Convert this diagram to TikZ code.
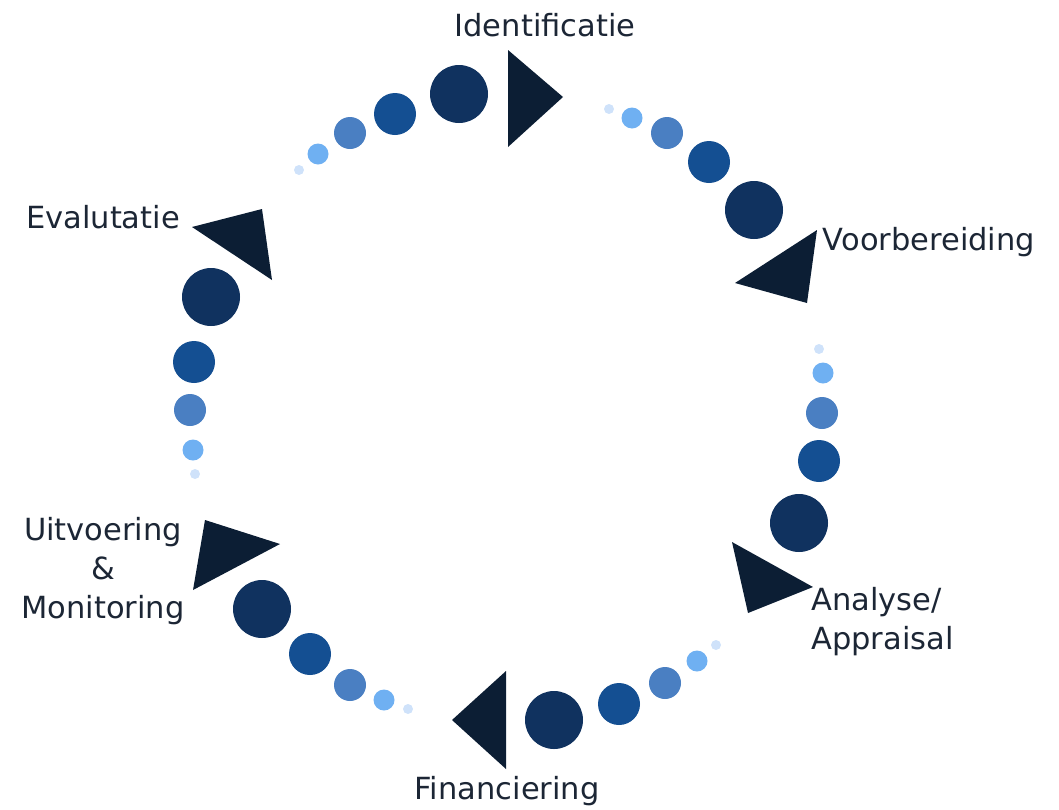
\documentclass[tikz,border=0pt]{standalone}
\usepackage{fontspec}
\setmainfont{DejaVu Sans}
\definecolor{tinyc}{HTML}{CFE2FA}
\definecolor{lightc}{HTML}{6FB0F2}
\definecolor{medc}{HTML}{4A7FC2}
\definecolor{midc}{HTML}{144F92}
\definecolor{darkc}{HTML}{10325F}
\definecolor{tric}{HTML}{0C1E34}
\definecolor{txtc}{HTML}{1C2635}
\tikzset{
  lbl/.style={text=txtc, font=\fontsize{30.5}{39}\selectfont, inner sep=0pt, align=center},
  tri/.style={fill=tric},
}
\newcommand{\dotrow}[5]{%
  \fill[tinyc] #1 circle (5);
  \fill[lightc] #2 circle (10.5);
  \fill[medc] #3 circle (16);
  \fill[midc] #4 circle (21);
  \fill[darkc] #5 circle (29);
}
\begin{document}
\begin{tikzpicture}[x=1pt,y=-1pt]
\useasboundingbox (0,0) rectangle (1059,809);
% top-left arc
\dotrow{(299,170)}{(318,154)}{(350,133)}{(395,114)}{(459,94)}
\fill[tri] (508,50) -- (508,147) -- (563,97) -- cycle;
% top-right arc
\dotrow{(609,109)}{(632,118)}{(667,133)}{(709,162)}{(754,210)}
\fill[tri] (817,230) -- (735,283) -- (807,303) -- cycle;
% right arc
\dotrow{(819,349)}{(823,373)}{(822,413)}{(819,461)}{(799,523)}
\fill[tri] (732,542) -- (748,613) -- (813,587) -- cycle;
% bottom-right arc
\dotrow{(716,645)}{(697,661)}{(665,683)}{(619,704)}{(554,720)}
\fill[tri] (506,671) -- (506,769) -- (452,720) -- cycle;
% bottom-left arc
\dotrow{(408,709)}{(384,700)}{(350,685)}{(310,654)}{(262,609)}
\fill[tri] (205,520) -- (193,590) -- (280,544) -- cycle;
% left arc
\dotrow{(195,474)}{(193,450)}{(190,410)}{(194,362)}{(211,297)}
\fill[tri] (192,227) -- (262,209) -- (272,280) -- cycle;
% labels
\node[lbl] (ident) at (545,25) {Identificatie};
\node[lbl] (voorb) at (929,242) {Voorbereiding};
\node[lbl, anchor=west, align=left] (analyse) at (811,622) {Analyse/\\Appraisal};
\node[lbl] (fin) at (507,791) {Financiering};
\node[lbl] (uitv) at (103,571) {Uitvoering\\\&\\Monitoring};
\node[lbl] (eval) at (103,217) {Evalutatie};
\end{tikzpicture}
\end{document}
